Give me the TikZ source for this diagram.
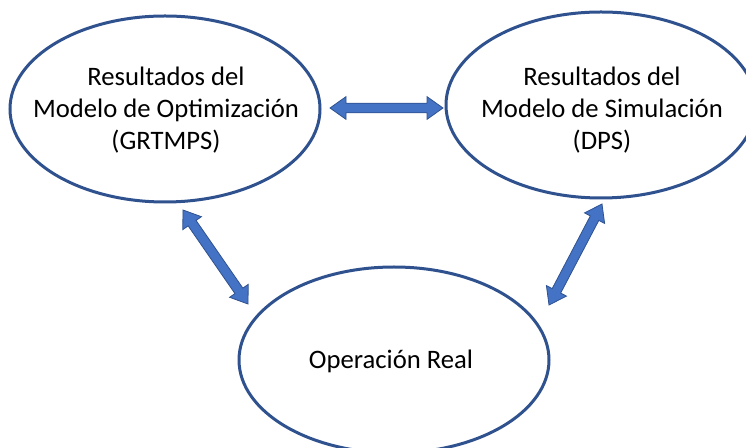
\documentclass[tikz,border=0pt]{standalone}
\usepackage{fontspec}
\setmainfont{Carlito}
\usetikzlibrary{shapes.geometric,calc}
\definecolor{elline}{HTML}{2F528F}
\definecolor{arrfill}{HTML}{4472C4}
\tikzset{
  ell/.style={ellipse, draw=elline, line width=2.25pt, fill=white,
    minimum width=232.5pt, minimum height=139.5pt, inner sep=0pt},
  lbl/.style={align=center, inner sep=0pt, font=\fontsize{20}{24}\selectfont},
  blockarrow/.style={fill=arrfill, draw=elline, line width=0.6pt, line join=miter}
}
\newcommand{\dblblockarrow}[2]{%
  \coordinate (hA) at ($(#1)!12pt!(#2)$);
  \coordinate (hB) at ($(#2)!12pt!(#1)$);
  \draw[blockarrow] (#1)
    -- ($(hA)!8.5pt!90:(#2)$) -- ($(hA)!3.6pt!90:(#2)$)
    -- ($(hB)!3.6pt!-90:(#1)$) -- ($(hB)!8.5pt!-90:(#1)$)
    -- (#2)
    -- ($(hB)!8.5pt!90:(#1)$) -- ($(hB)!3.6pt!90:(#1)$)
    -- ($(hA)!3.6pt!-90:(#2)$) -- ($(hA)!8.5pt!-90:(#2)$)
    -- cycle;}
\begin{document}
\begin{tikzpicture}[x=0.75pt,y=-0.75pt]
\useasboundingbox (0,0) rectangle (746,448);
\node[ell] (e1) at (165,109) {};
\node[ell] (e2) at (601,105) {};
\node[ell] (e3) at (394,360) {};
\node[lbl] (t1) at (166,110) {Resultados del\\Modelo de Optimización\\(GRTMPS)};
\node[lbl] (t2) at (602,110) {Resultados del\\Modelo de Simulación\\(DPS)};
\node[lbl] (t3) at (391,361) {Operación Real};
\coordinate (h1) at (330,108);
\coordinate (h2) at (443,108);
\coordinate (l1) at (183,210);
\coordinate (l2) at (248,304);
\coordinate (r1) at (602,204);
\coordinate (r2) at (549,305);
\dblblockarrow{h1}{h2}
\dblblockarrow{l1}{l2}
\dblblockarrow{r1}{r2}
\end{tikzpicture}
\end{document}
